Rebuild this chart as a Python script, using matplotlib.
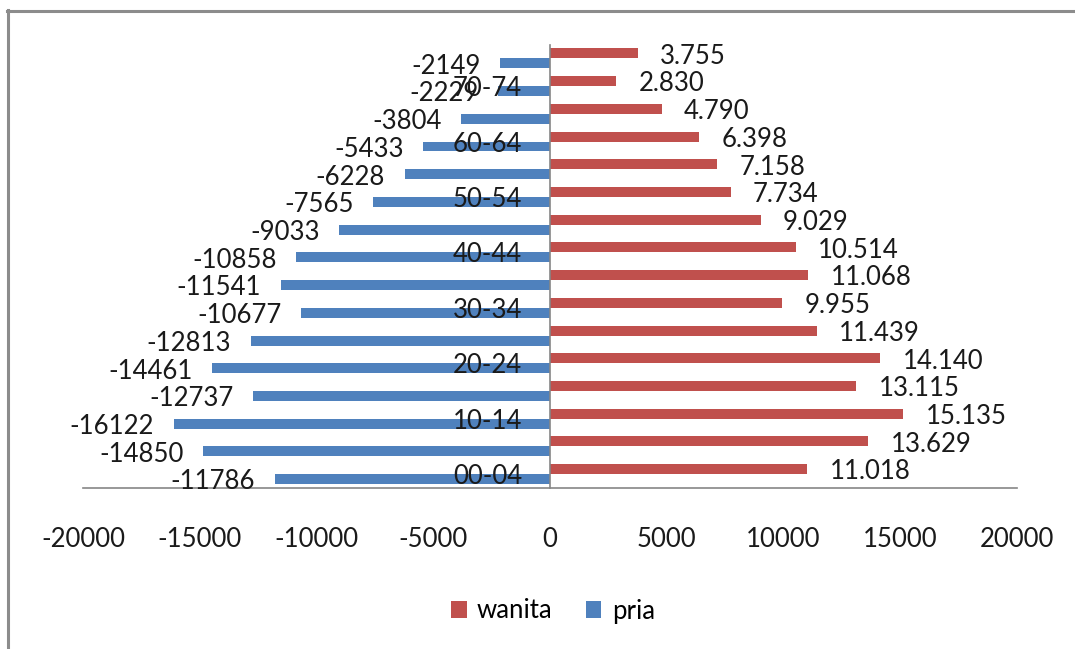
import matplotlib
matplotlib.use("Agg")
import matplotlib.pyplot as plt
from matplotlib.lines import Line2D
import numpy as np

categories = ["00-04", "05-09", "10-14", "15-19", "20-24", "25-29", "30-34", "35-39",
              "40-44", "45-49", "50-54", "55-59", "60-64", "65-69", "70-74", "75+"]
wanita = [11018, 13629, 15135, 13115, 14140, 11439, 9955, 11068,
          10514, 9029, 7734, 7158, 6398, 4790, 2830, 3755]
pria = [-11786, -14850, -16122, -12737, -14461, -12813, -10677, -11541,
        -10858, -9033, -7565, -6228, -5433, -3804, -2229, -2149]
x_ticks = [-20000, -15000, -10000, -5000, 0, 5000, 10000, 15000, 20000]

RED = "#C0504D"
BLUE = "#4F81BD"
GRAY = "#868686"
TXT = "#1a1a1a"
FONT = "Lato"
FS = 18.5

plt.rcParams["font.family"] = [FONT, "DejaVu Sans"]

W, H = 1075, 649
fig = plt.figure(figsize=(W / 100, H / 100), dpi=100)
ax = fig.add_axes([83 / W, 1 - 488 / H, (1017 - 83) / W, (488 - 44.5) / H])

ax.spines["left"].set_position(("data", 0))
for s in ["top", "right"]:
    ax.spines[s].set_visible(False)
for s in ["left", "bottom"]:
    ax.spines[s].set_color(GRAY)
    ax.spines[s].set_linewidth(1.2)

y = np.arange(len(categories))
bh = 0.36
ax.barh(y + bh / 2, wanita, height=bh, color=RED, label="wanita")
ax.barh(y - bh / 2, pria, height=bh, color=BLUE, label="pria")

for yi, v in zip(y, wanita):
    s = f"{v:,}".replace(",", ".")
    ax.annotate(s, (v, yi + bh / 2), xytext=(16, -2), textcoords="offset points",
                ha="left", va="center", fontsize=FS, color=TXT)
for yi, v in zip(y, pria):
    ax.annotate(f"{v}", (v, yi - bh / 2), xytext=(-14, -2), textcoords="offset points",
                ha="right", va="center", fontsize=FS, color=TXT)

ax.set_xlim(-20000, 20000)
ax.set_ylim(-0.5, len(categories) - 0.5)
ax.set_xticks(x_ticks)
ax.set_xticklabels([str(t) for t in x_ticks])
ax.set_yticks(y[::2])
ax.set_yticklabels(categories[::2])
ax.tick_params(axis="x", length=0, pad=28, labelsize=FS, labelcolor=TXT)
ax.tick_params(axis="y", length=0, pad=20, labelsize=FS, labelcolor=TXT)

leg = fig.legend(loc="center", bbox_to_anchor=(553 / W, 1 - 611 / H), ncol=2,
                 frameon=False, fontsize=FS, handlelength=0.6, handleheight=0.6,
                 handletextpad=0.4, columnspacing=1.3)

# chart area border (left and top edges visible)
fig.add_artist(Line2D([8 / W, 8 / W], [0, 1 - 10 / H], transform=fig.transFigure,
                      color="#8c8c8c", linewidth=2.2))
fig.add_artist(Line2D([7 / W, 1], [1 - 11 / H, 1 - 11 / H], transform=fig.transFigure,
                      color="#8c8c8c", linewidth=2.2))

fig.savefig("out.png", dpi=100, facecolor="white")
